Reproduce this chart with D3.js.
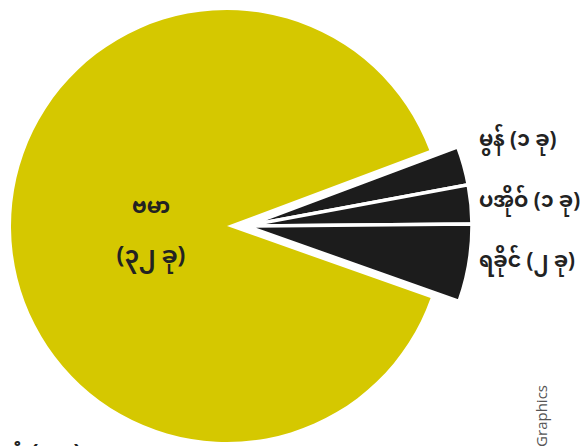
<!DOCTYPE html>
<html>
<head>
<meta charset="utf-8">
<script src="https://cdn.jsdelivr.net/npm/d3@7/dist/d3.min.js"></script>
<style>
  html, body { margin: 0; padding: 0; background: #ffffff; }
  svg { display: block; }
</style>
</head>
<body>
<div id="chart"></div>
<script>
// ---- data ----
const categories = ["ဗမာ", "မွန်", "ပအိုဝ်", "ရခိုင်"];
const values = [32, 1, 1, 2];
const countLabels = ["(၃၂ ခု)", "(၁ ခု)", "(၁ ခု)", "(၂ ခု)"];
const footText = "ပုံ (၁ ခု)";
const creditText = "Graphics";

// ---- layout ----
const W = 587, H = 446;
const cx = 227, cy = 226;
const rMain = 216, rSmall = 226, explode = 19;
const colors = ["#d5c800", "#1c1c1c", "#1c1c1c", "#1c1c1c"];
const fontFam = "'Noto Sans Myanmar', 'Noto Sans', 'DejaVu Sans', sans-serif";
const labelBaselines = [null, 146, 207, 267];

const svg = d3.select("#chart").append("svg")
  .attr("width", W).attr("height", H);

const data = categories.map((c, i) => ({ name: c, value: values[i], label: countLabels[i], i }));

const pie = d3.pie().sort(null).value(d => d.value)
  .startAngle(109.5 * Math.PI / 180)
  .endAngle(469.5 * Math.PI / 180);
const arcs = pie(data);

const arcMain = d3.arc().innerRadius(0).outerRadius(rMain);
const arcSmall = d3.arc().innerRadius(0).outerRadius(rSmall);

const g = svg.append("g").attr("transform", `translate(${cx},${cy})`);

// main slice
g.append("path")
  .datum(arcs[0])
  .attr("d", arcMain)
  .attr("fill", colors[0]);

// exploded small slices (shifted to the right as a group)
const gs = g.append("g").attr("transform", `translate(${explode},0)`);
gs.selectAll("path.small")
  .data(arcs.slice(1))
  .join("path")
  .attr("class", "small")
  .attr("d", arcSmall)
  .attr("fill", d => colors[d.data.i])
  .attr("stroke", "#ffffff")
  .attr("stroke-width", 3.5)
  .attr("stroke-linejoin", "round");

// main slice labels
const mainLabelX = 151;
svg.append("text")
  .attr("x", mainLabelX).attr("y", 213)
  .attr("text-anchor", "middle")
  .attr("font-family", fontFam).attr("font-size", 21).attr("font-weight", "bold")
  .attr("fill", "#222")
  .text(categories[0]);
svg.append("text")
  .attr("x", mainLabelX).attr("y", 263)
  .attr("text-anchor", "middle")
  .attr("font-family", fontFam).attr("font-size", 23).attr("font-weight", "bold")
  .attr("fill", "#222")
  .text(countLabels[0]);

// small slice labels
const labelX = 479;
svg.selectAll("text.lab")
  .data(arcs.slice(1))
  .join("text")
  .attr("class", "lab")
  .attr("x", labelX)
  .attr("y", d => labelBaselines[d.data.i])
  .attr("font-family", fontFam).attr("font-size", 20.5).attr("font-weight", "bold")
  .attr("fill", "#222")
  .text(d => d.data.name + " " + d.data.label);

// partially cut footer text
svg.append("text")
  .attr("x", 10).attr("y", 459)
  .attr("font-family", fontFam).attr("font-size", 22).attr("font-weight", "bold")
  .attr("fill", "#222")
  .text(footText);

// vertical credit, cut by the bottom edge
svg.append("text")
  .attr("transform", "translate(547,385) rotate(-90)")
  .attr("text-anchor", "end")
  .attr("font-family", "'Open Sans', 'DejaVu Sans', sans-serif")
  .attr("font-size", 15)
  .attr("fill", "#555")
  .text(creditText);
</script>
</body>
</html>
